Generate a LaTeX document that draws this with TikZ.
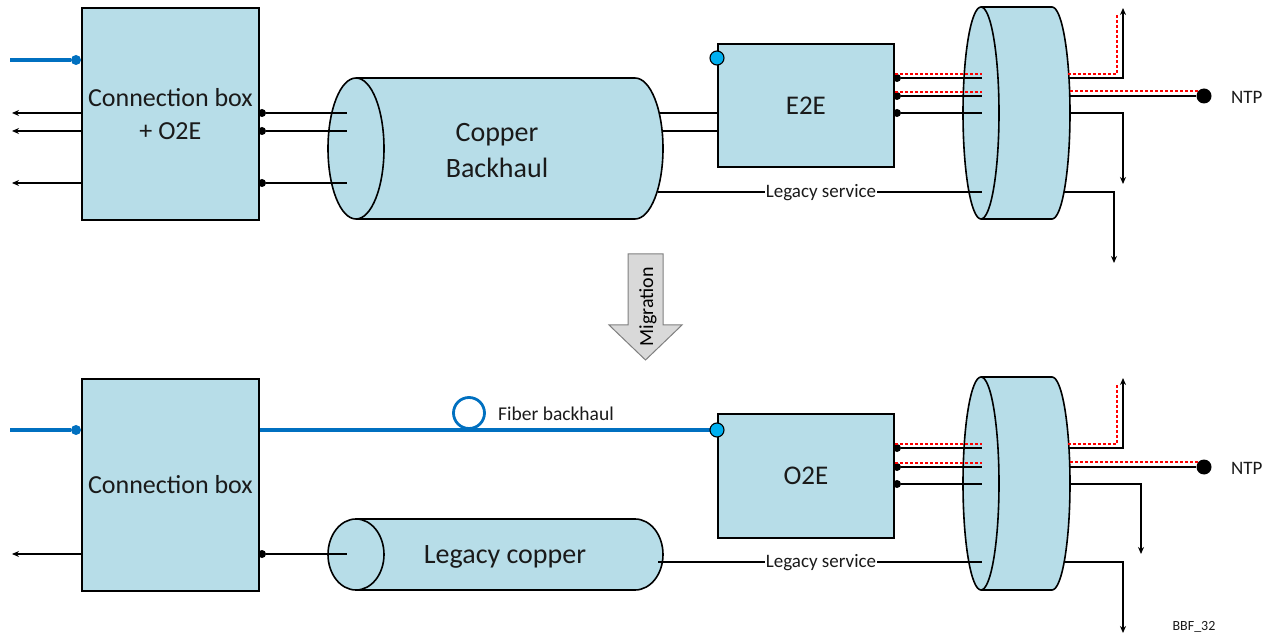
\documentclass[tikz,border=0pt]{standalone}
\usepackage{fontspec}
\setmainfont{Carlito}
\usetikzlibrary{arrows.meta}
\definecolor{boxfill}{HTML}{B7DDE8}
\definecolor{fiber}{HTML}{0070C0}
\definecolor{cyanport}{HTML}{00B0F0}
\definecolor{migfill}{HTML}{D9D9D9}
\definecolor{miggray}{HTML}{7F7F7F}
\definecolor{txt}{HTML}{1A1A1A}
\newcommand{\mycyl}[5]{%
  \path[fill=boxfill, draw=black, line width=1.6pt] (#2,#3) ellipse [x radius=#4, y radius=#5];
  \path[fill=boxfill] (#1,#3-#5) rectangle (#2,#3+#5);
  \draw[line width=1.6pt] (#1,#3-#5) -- (#2,#3-#5) (#1,#3+#5) -- (#2,#3+#5);
  \path[fill=boxfill, draw=black, line width=1.6pt] (#1,#3) ellipse [x radius=#4, y radius=#5];
}
\begin{document}
\begin{tikzpicture}[x=1pt,y=-1pt,
  unit/.style={draw=black, fill=boxfill, line width=1.8pt, inner sep=0pt, anchor=north west, align=center, text=txt},
  wire/.style={draw=black, line width=1.6pt},
  outarrow/.style={wire, -{Stealth[length=7pt,width=6pt]}},
  redwire/.style={draw=red, dash pattern=on 3pt off 2pt, line width=1.5pt},
  fiberline/.style={draw=fiber, line width=3.2pt},
  port/.style={circle, fill=black, inner sep=0pt, minimum size=8pt},
  bluedot/.style={circle, fill=fiber, inner sep=0pt, minimum size=10pt},
  cyanport/.style={circle, fill=cyanport, draw=black, line width=1.1pt, inner sep=0pt, minimum size=14pt},
  ntpdot/.style={circle, fill=black, inner sep=0pt, minimum size=15pt},
  lbl/.style={text=txt, inner sep=1pt},
  svclbl/.style={lbl, fill=white, font=\fontsize{19}{22}\selectfont},
]
\useasboundingbox (0,0) rectangle (1270,636);

% ================= TOP =================
\mycyl{356}{635}{148.5}{28}{70.5}
\mycyl{981}{1052}{113}{18}{106}
\node[lbl, align=center, font=\fontsize{28}{36}\selectfont] (cbtxt) at (497,151) {Copper\\Backhaul};

\node[unit, minimum width=177pt, minimum height=212pt, font=\fontsize{26}{33}\selectfont] (cb1) at (81,7) {Connection box\\+ O2E};
\coordinate (fin1) at (10,60);
\node[bluedot] (bd1) at (76,60) {};
\draw[fiberline] (fin1) -- (bd1);
\coordinate (la1) at (12,113);
\coordinate (la2) at (12,131);
\coordinate (la3) at (12,183);
\draw[outarrow] (cb1.west |- la1) -- (la1);
\draw[outarrow] (cb1.west |- la2) -- (la2);
\draw[outarrow] (cb1.west |- la3) -- (la3);
\node[port] (cp1) at (262,113) {};
\node[port] (cp2) at (262,131) {};
\node[port] (cp3) at (262,183) {};
\coordinate (ce1) at (347,113);
\coordinate (ce2) at (347,131);
\coordinate (ce3) at (347,183);
\draw[wire] (cp1) -- (ce1);
\draw[wire] (cp2) -- (ce2);
\draw[wire] (cp3) -- (ce3);

\node[unit, minimum width=176pt, minimum height=123pt, font=\fontsize{27}{32}\selectfont] (e2e) at (717,43) {E2E};
\coordinate (cr1) at (659,113);
\coordinate (cr2) at (662,131);
\draw[wire] (cr1) -- (e2e.west |- cr1);
\draw[wire] (cr2) -- (e2e.west |- cr2);
\node[cyanport] (e2ein) at (717,58) {};
\node[port] (ep1) at (897,78) {};
\node[port] (ep2) at (897,96) {};
\node[port] (ep3) at (897,113) {};
\coordinate (de1) at (982,78);
\coordinate (de2) at (982,96);
\coordinate (de3) at (982,113);
\draw[wire] (ep1) -- (de1);
\draw[wire] (ep2) -- (de2);
\draw[wire] (ep3) -- (de3);
\coordinate (rs1) at (895,74);
\coordinate (rs2) at (895,92);
\coordinate (rd1) at (982,74);
\coordinate (rd2) at (982,92);
\draw[redwire] (rs1) -- (rd1);
\draw[redwire] (rs2) -- (rd2);

\coordinate (ls1) at (658,192);
\coordinate (le1) at (982,192);
\draw[wire] (ls1) -- (le1);
\node[svclbl] (lsl1) at (821,193) {Legacy service};

\coordinate (o1a) at (1069,78);
\coordinate (o1b) at (1123,78);
\coordinate (o1c) at (1123,8);
\draw[outarrow] (o1a) -- (o1b) -- (o1c);
\coordinate (r1a) at (1068,74);
\coordinate (r1b) at (1117,74);
\coordinate (r1c) at (1117,14);
\draw[redwire] (r1a) -- (r1b) -- (r1c);
\coordinate (o2a) at (1070,96);
\node[ntpdot] (ntp1) at (1204,96) {};
\draw[wire] (o2a) -- (ntp1);
\coordinate (r2a) at (1070,91);
\coordinate (r2b) at (1199,91);
\draw[redwire] (r2a) -- (r2b);
\node[lbl, anchor=west, font=\fontsize{19}{22}\selectfont] (ntpl1) at (1230,97) {NTP};
\coordinate (o3a) at (1070,113);
\coordinate (o3b) at (1123,113);
\coordinate (o3c) at (1123,184);
\draw[outarrow] (o3a) -- (o3b) -- (o3c);
\coordinate (o4a) at (1064,192);
\coordinate (o4b) at (1114,192);
\coordinate (o4c) at (1114,263);
\draw[outarrow] (o4a) -- (o4b) -- (o4c);

% ================= MIGRATION =================
\draw[fill=migfill, draw=miggray, line width=1pt] (628,254) -- (663,254) -- (663,325) -- (682,325) -- (645.5,360) -- (609,325) -- (628,325) -- cycle;
\node[lbl, rotate=90, font=\fontsize{20}{24}\selectfont, text=black] (mig) at (648,307) {Migration};

% ================= BOTTOM =================
\mycyl{356}{635}{554.5}{28}{35.5}
\mycyl{981}{1052}{483.5}{18}{106.5}
\node[lbl, font=\fontsize{28}{34}\selectfont] (lctxt) at (505,557) {Legacy copper};

\node[unit, minimum width=177pt, minimum height=212pt, font=\fontsize{26}{33}\selectfont] (cb2) at (81,378) {Connection box};
\coordinate (fin2) at (10,430);
\node[bluedot] (bd2) at (76,430) {};
\draw[fiberline] (fin2) -- (bd2);
\coordinate (lb1) at (12,554);
\draw[outarrow] (cb2.west |- lb1) -- (lb1);
\node[port] (cq1) at (262,554) {};
\coordinate (cf1) at (347,554);
\draw[wire] (cq1) -- (cf1);

\node[unit, minimum width=176pt, minimum height=124pt, font=\fontsize{27}{32}\selectfont] (o2e) at (717,413) {O2E};
\draw[fiberline] (cb2.east |- 0,430) coordinate (fo1) -- (717,430) coordinate (fo2);
\node[cyanport] (o2ein) at (717,430) {};
\node[circle, draw=fiber, line width=2.8pt, inner sep=0pt, minimum size=31pt] (fbc) at (469,413) {};
\node[lbl, anchor=west, font=\fontsize{19.5}{23}\selectfont] (fbl) at (497,414) {Fiber backhaul};

\node[port] (fp1) at (897,448) {};
\node[port] (fp2) at (897,467) {};
\node[port] (fp3) at (897,484) {};
\coordinate (df1) at (982,448);
\coordinate (df2) at (982,467);
\coordinate (df3) at (982,484);
\draw[wire] (fp1) -- (df1);
\draw[wire] (fp2) -- (df2);
\draw[wire] (fp3) -- (df3);
\coordinate (rt1) at (895,444);
\coordinate (rt2) at (895,463);
\coordinate (ru1) at (982,444);
\coordinate (ru2) at (982,463);
\draw[redwire] (rt1) -- (ru1);
\draw[redwire] (rt2) -- (ru2);

\coordinate (ls2) at (658,562);
\coordinate (le2) at (982,562);
\draw[wire] (ls2) -- (le2);
\node[svclbl] (lsl2) at (821,563) {Legacy service};

\coordinate (p1a) at (1069,448);
\coordinate (p1b) at (1123,448);
\coordinate (p1c) at (1123,378);
\draw[outarrow] (p1a) -- (p1b) -- (p1c);
\coordinate (q1a) at (1068,444);
\coordinate (q1b) at (1117,444);
\coordinate (q1c) at (1117,384);
\draw[redwire] (q1a) -- (q1b) -- (q1c);
\coordinate (p2a) at (1070,467);
\node[ntpdot] (ntp2) at (1204,467) {};
\draw[wire] (p2a) -- (ntp2);
\coordinate (q2a) at (1070,462);
\coordinate (q2b) at (1199,462);
\draw[redwire] (q2a) -- (q2b);
\node[lbl, anchor=west, font=\fontsize{19}{22}\selectfont] (ntpl2) at (1230,468) {NTP};
\coordinate (p3a) at (1070,484);
\coordinate (p3b) at (1141,484);
\coordinate (p3c) at (1141,554);
\draw[outarrow] (p3a) -- (p3b) -- (p3c);
\coordinate (p4a) at (1064,562);
\coordinate (p4b) at (1123,562);
\coordinate (p4c) at (1123,633);
\draw[outarrow] (p4a) -- (p4b) -- (p4c);

\node[lbl, font=\fontsize{14}{16}\selectfont] (bbf) at (1194,627) {BBF\_32};
\end{tikzpicture}
\end{document}
